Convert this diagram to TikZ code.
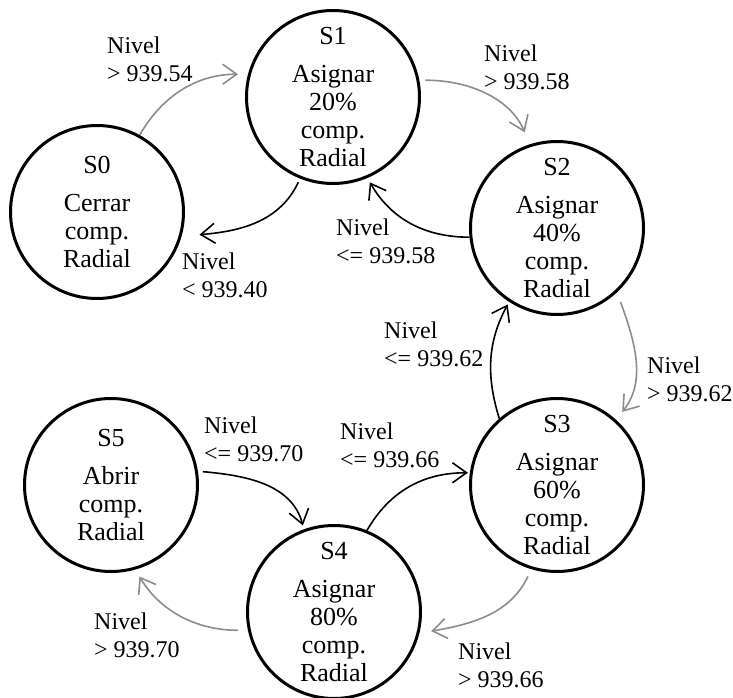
\documentclass[tikz,border=0pt]{standalone}
\usepackage{fontspec}
\setmainfont{Liberation Serif}
\usetikzlibrary{arrows.meta}
\definecolor{upgray}{RGB}{140,140,140}
\tikzset{
  state/.style={circle, draw, line width=3pt, minimum size=173pt, inner sep=0pt,
    align=center, font=\fontsize{26}{28}\selectfont},
  trans/.style={line width=1.6pt, -{Straight Barb[length=14pt,width=20pt]}},
  rise/.style={trans, draw=upgray},
  fall/.style={trans, draw=black},
  cond/.style={anchor=north west, inner sep=0pt, align=left,
    font=\fontsize{24}{28}\selectfont},
}
\begin{document}
\begin{tikzpicture}[x=1pt,y=1pt]
\useasboundingbox (0,-698) rectangle (733,0);

% states
\node[state] (S0) at (97,-212)  {S0\\[10pt]Cerrar\\comp.\\Radial};
\node[state] (S1) at (333,-97)  {S1\\[10pt]Asignar\\20\%\\comp.\\Radial};
\node[state] (S2) at (557,-228) {S2\\[10pt]Asignar\\40\%\\comp.\\Radial};
\node[state] (S3) at (557,-485) {S3\\[10pt]Asignar\\60\%\\comp.\\Radial};
\node[state] (S4) at (334,-612) {S4\\[10pt]Asignar\\80\%\\comp.\\Radial};
\node[state] (S5) at (111,-485) {S5\\[10pt]Abrir\\comp.\\Radial};

% level conditions
\node[cond] (c01) at (107,-37)  {Nivel\\> 939.54};
\node[cond] (c10) at (182,-253) {Nivel\\< 939.40};
\node[cond] (c12) at (484,-45)  {Nivel\\> 939.58};
\node[cond] (c21) at (336,-219) {Nivel\\<= 939.58};
\node[cond] (c23) at (647,-357) {Nivel\\> 939.62};
\node[cond] (c32) at (384,-322) {Nivel\\<= 939.62};
\node[cond] (c34) at (458,-643) {Nivel\\> 939.66};
\node[cond] (c43) at (340,-423) {Nivel\\<= 939.66};
\node[cond] (c45) at (94,-613)  {Nivel\\> 939.70};
\node[cond] (c54) at (204,-417) {Nivel\\<= 939.70};

% rising level transitions
\draw[rise, shorten >=10pt] (S0.61) to[out=60,in=180] (S1.165);
\draw[rise, shorten <=6pt, shorten >=13pt] (S1.11) to[out=0,in=113] (S2.108);
\draw[rise, shorten <=10pt, shorten >=10pt] (S2.-47) to[out=-70,in=51] (S3.48);
\draw[rise, shorten <=8pt, shorten >=12pt] (S3.253) to[out=245,in=10] (S4.-14);
\draw[rise, shorten <=10pt, shorten >=8pt] (S4.192) to[out=180,in=301] (S5.286);

% falling level transitions
\draw[fall, shorten <=4pt, shorten >=18pt] (S1.248) to[out=245,in=5] (S0.-16);
\draw[fall, shorten >=5pt] (S2.186) to[out=180,in=300] (S1.293);
\draw[fall, shorten >=3pt] (S3.131) to[out=107,in=242] (S2.237);
\draw[fall, shorten >=2pt] (S4.68) to[out=60,in=180] (S3.172);
\draw[fall, shorten <=5pt, shorten >=4pt] (S5.9) to[out=-5,in=105] (S4.110);
\end{tikzpicture}
\end{document}
